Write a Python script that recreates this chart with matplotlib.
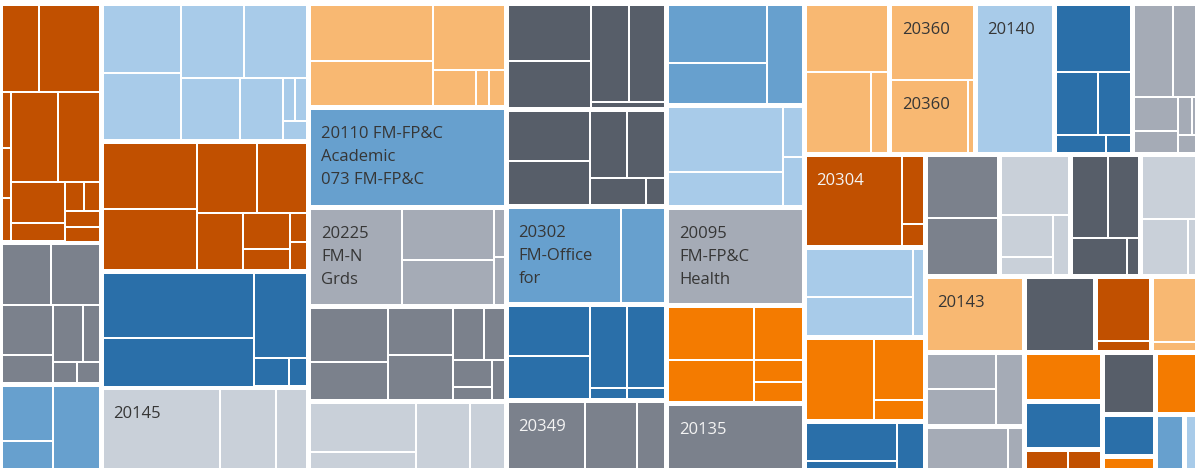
import matplotlib.pyplot as plt
from matplotlib.patches import Rectangle

plt.rcParams['font.family'] = ['Open Sans', 'DejaVu Sans']

# Tableau colour-blind palette
PALETTE = {
    'dkorange': '#c15000',
    'orange': '#f47b00',
    'lorange': '#f8b872',
    'dkblue': '#2a6fa9',
    'mblue': '#67a0ce',
    'lblue': '#a8cbe9',
    'dkgray': '#575e69',
    'mgray': '#7b818c',
    'gray': '#a5abb6',
    'vlgray': '#c9d0d9',
}
DARK_FILLS = {'dkorange', 'dkblue', 'dkgray', 'mgray'}


def H(*items):
    """cells side by side; items are sizes or (size, subtree)"""
    return ('H', items)


def V(*items):
    """cells stacked top to bottom"""
    return ('V', items)


# colour of every group (thick white border around it)
group_color = {
    'c1a': 'dkorange', 'c1b': 'mgray', 'c1c': 'mblue',
    'c2a': 'lblue', 'c2b': 'dkorange', 'c2c': 'dkblue', '20145': 'vlgray',
    'c3a': 'lorange', '20110': 'mblue', '20225': 'gray', 'c3d': 'mgray', 'c3e': 'vlgray',
    'c4a': 'dkgray', 'c4b': 'dkgray', '20302': 'mblue', 'c4d': 'dkblue', '20349': 'mgray',
    'c5a': 'mblue', 'c5b': 'lblue', '20095': 'gray', 'c5d': 'orange', '20135': 'mgray',
    'r1a': 'lorange', '20360': 'lorange', '20140': 'lblue', 'r1d': 'dkblue', 'r1e': 'gray',
    '20304': 'dkorange', 'a2': 'lblue', 'a3': 'orange', 'a4': 'dkblue',
    'r2a': 'mgray', 'r2b': 'vlgray', 'r2c': 'dkgray', 'r2d': 'vlgray',
    '20143': 'lorange', 'r3b': 'dkgray', 'r3c': 'dkorange', 'r3d': 'lorange',
    'r4a': 'gray', 'r4b': 'gray', 'r4c': 'orange', 'r4d': 'dkblue', 'r4e': 'dkorange',
    'r4f': 'dkgray', 'r4g': 'dkblue', 'r4h': 'orange', 'r4i': 'orange',
    'r4j': 'mblue', 'r4k': 'lblue',
}

# inner cells of each group (relative sizes); missing = one cell
group_cells = {
    'c1a': V(
        (86, H(36, 60)),
        (148, H(
            (9, V(55, 50, 43)),
            (87, V(
                (89, H(46, 41)),
                (59, H((53, V(41, 18)), (34, V((29, H(18, 16)), 16, 14)))),
            )),
        )),
    ),
    'c1b': V((60, H(48, 48)), (77, H((50, V(49, 28)), (46, V((56, H(29, 17)), (21, H(23, 23))))))),
    'c1c': H((50, V(54.5, 35.5)), 46),
    'c2a': H((77, V(66.5, 66.5)),
             (126, V((72, H(63, 63)), (61, H(59, 42.5, (24.5, V((41.5, H(12.5, 12)), 19.5))))))),
    'c2b': H((93.5, V(64, 60)),
             (109.5, V((68, H(59, 50.5)), (56, H(45, (47, V(35, 21)), (17.5, V(29, 27))))))),
    'c2c': H((149.5, V(64, 48)), (53.5, V(84, (28, H(35.5, 18))))),
    '20145': H(116.5, 55.5, 31),
    'c3a': H((122.5, V(55, 44)), (71.5, V(63.5, (35.5, H(42.5, 13.3, 15.7))))),
    '20225': H(91, (92, V(49, 44)), (11, V(46.5, 46.5))),
    'c3d': H((77, V(53, 37)), (65.5, V(45.5, 44.5)),
             (51.5, V((51.3, H(30.5, 21)), (38.7, H((39, V(26, 12.5)), 12.5))))),
    'c3e': H((105, V(49.5, 24)), 54.5, 34.5),
    'c4a': H((83, V(54.5, 46.5)), (74, V((95.5, H(37.5, 36.5)), 6))),
    'c4b': H((82, V(48.3, 43.7)), (75, V((65.5, H(37, 38)), (26.5, H(56, 19))))),
    '20302': H(113, 44),
    'c4d': H((82, V(49, 42)), (37, V(80, 11)), (38, V(80, 11))),
    '20349': H(76.7, 52, 28.3),
    'c5a': H((97, V(56.7, 41.3)), 35),
    'c5b': H((112, V(63, 34)), (20, V(48.5, 48.5))),
    'c5d': H((84.3, V(52.3, 40.7)), (47.7, V(52, 21, 20))),
    'r1a': V(66, (80, H(62.8, 17.2))),
    '20360': V(73.5, (72.5, H(74, 6))),
    'r1d': V(66, (62, H(40.7, 32.3)), (18, H(48.8, 24.2))),
    'r1e': V((92, H(39, 30)), (56, H((43.8, V(34, 22)), (25.2, V((38.5, H(14.2, 11)), 17.5))))),
    '20304': H(94, (21, V(66.5, 21.5))),
    'a2': H((104, V(46.5, 38.5)), 11),
    'a3': H(66.7, (49.3, V(60, 20))),
    'a4': H((89, V(38, 15)), 27),
    'r2a': V(61, 56),
    'r2b': V(58, (59, H((50.5, V(41, 18)), 15.5))),
    'r2c': V((81, H(35.3, 29.7)), (36, H(53.7, 11.3))),
    'r2d': V(63.5, (55.5, H(46, 15.5))),
    'r3c': V(63, 10),
    'r3d': V(64.5, 9),
    'r4a': H((68, V(34.5, 35.5)), 27),
    'r4b': H(81.3, 15.2),
    'r4e': H(42, 33),
}

# top level columns of the treemap
col1 = V((239.5, 'c1a'), (142, 'c1b'), (93, 'c1c'))
col2 = V((138.5, 'c2a'), (129.5, 'c2b'), (116.5, 'c2c'), (90, '20145'))
col3 = V((104.5, 'c3a'), (100, '20110'), (98.5, '20225'), (95, 'c3d'), (76.5, 'c3e'))
col4 = V((106.5, 'c4a'), (97, 'c4b'), (97.5, '20302'), (96, 'c4d'), (77.5, '20349'))
col5 = V((102.5, 'c5a'), (102, 'c5b'), (97.5, '20095'), (98, 'c5d'), (74.5, '20135'))
top_row = H((85.5, 'r1a'), (85.5, '20360'), (79, '20140'), (78.5, 'r1d'), (72, 'r1e'))
col_a = V((93, '20304'), (90, 'a2'), (84.5, 'a3'), (56, 'a4'))
row2 = H((74.5, 'r2a'), (70.5, 'r2b'), (70, 'r2c'), (64.5, 'r2d'))
row3 = H((99.5, '20143'), (70.5, 'r3b'), (56, 'r3c'), (53.5, 'r3d'))
row4 = H((99.5, V((74, 'r4a'), (51, 'r4b'))),
         (78, V((49, 'r4c'), (47.5, 'r4d'), (28.5, 'r4e'))),
         (52.5, V((62, 'r4f'), (42, 'r4g'), (21, 'r4h'))),
         (49.5, V((62, 'r4i'), (63, H((29, 'r4j'), (20.5, 'r4k'))))))
right = V((151, top_row), (323.5, H((121, col_a), (279.5, V((122, row2), (76.5, row3), (125, row4))))))
treemap = H((101, col1), (207.5, col2), (197.5, col3), (160.5, col4), (137.5, col5), (400.5, right))
TREE_W, TREE_H = 1204.5, 474.5

# labels: (group, n-th cell) -> lines
labels = {
    ('20110', 0): ['20110 FM-FP&C', 'Academic', '073 FM-FP&C'],
    ('20225', 0): ['20225', 'FM-N', 'Grds'],
    ('20302', 0): ['20302', 'FM-Office', 'for'],
    ('20095', 0): ['20095', 'FM-FP&C', 'Health'],
    ('20145', 0): ['20145'],
    ('20349', 0): ['20349'],
    ('20135', 0): ['20135'],
    ('20304', 0): ['20304'],
    ('20360', 0): ['20360'],
    ('20360', 1): ['20360'],
    ('20140', 0): ['20140'],
    ('20143', 0): ['20143'],
}

GROUP_GAP = 5
CELL_GAP = 2

fig = plt.figure(figsize=(11.95, 4.68), dpi=100)
ax = fig.add_axes([0, 0, 1, 1])
ax.set_xlim(-0.5, 1194.5)
ax.set_ylim(464.5, -3.5)
ax.axis('off')

leaf_count = {}


def draw(node, x0, y0, x1, y1, group=None):
    if isinstance(node, str):
        pad = (GROUP_GAP - CELL_GAP) / 2
        draw(group_cells.get(node), x0 + pad, y0 + pad, x1 - pad, y1 - pad, node)
        return
    if node is None:
        p = CELL_GAP / 2
        key = group_color[group]
        ax.add_patch(Rectangle((x0 + p, y0 + p), x1 - x0 - 2 * p, y1 - y0 - 2 * p,
                               facecolor=PALETTE[key], edgecolor='none'))
        idx = leaf_count.get(group, 0)
        leaf_count[group] = idx + 1
        lines = labels.get((group, idx))
        if lines:
            tc = '#f4f4f4' if key in DARK_FILLS else '#363636'
            for i, s in enumerate(lines):
                ax.text(x0 + p + 9.5, y0 + p + 28 + 23 * i, s, fontsize=12,
                        color=tc, ha='left', va='baseline')
        return
    direction, items = node
    items = [(it, None) if isinstance(it, (int, float)) else it for it in items]
    total = sum(w for w, _ in items)
    pos = x0 if direction == 'H' else y0
    span = (x1 - x0) if direction == 'H' else (y1 - y0)
    for w, child in items:
        step = span * w / total
        if direction == 'H':
            draw(child, pos, y0, pos + step, y1, group)
        else:
            draw(child, x0, pos, x1, pos + step, group)
        pos += step


draw(treemap, 0, 0, TREE_W, TREE_H)

fig.savefig('out.png', dpi=100, facecolor='white')
